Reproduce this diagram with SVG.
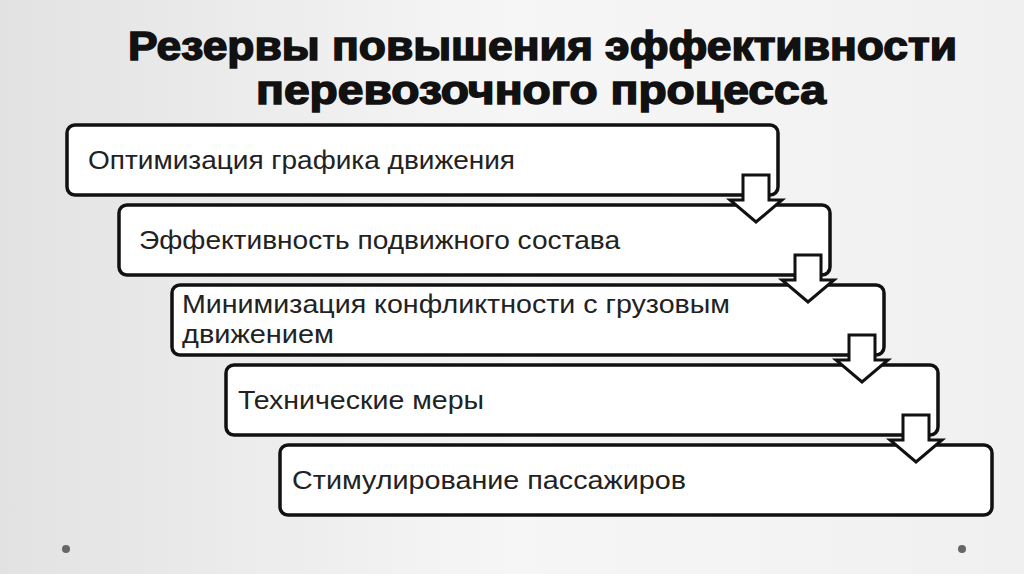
<svg xmlns="http://www.w3.org/2000/svg" width="1024" height="574" viewBox="0 0 1024 574">
<defs>
<linearGradient id="bg" x1="0" y1="0" x2="1" y2="0"><stop offset="0" stop-color="#e2e2e2"/><stop offset="0.5" stop-color="#f6f6f6"/><stop offset="1" stop-color="#f0f0f0"/></linearGradient>
<g id="arr"><path d="M-13,0 H13 V25 H26 L0,47 L-26,25 H-13 Z" fill="#fff" stroke="#111" stroke-width="3" stroke-linejoin="miter"/></g>
</defs>
<style>
.box{fill:#fff;stroke:#111;stroke-width:3.5}
.t{font-family:"Liberation Sans",Arial,sans-serif;font-size:25px;fill:#222}
.h{font-family:"Liberation Sans",Arial,sans-serif;font-size:40px;font-weight:bold;fill:#111;stroke:#111;stroke-width:1.5}
</style>
<rect width="1024" height="574" fill="url(#bg)"/>
<circle cx="66" cy="549" r="4" fill="#666"/>
<circle cx="962" cy="549" r="4" fill="#666"/>
<text class="h" x="128" y="60" textLength="829" lengthAdjust="spacingAndGlyphs">Резервы повышения эффективности</text>
<text class="h" x="256" y="104" textLength="570" lengthAdjust="spacingAndGlyphs">перевозочного процесса</text>
<g id="n1"><rect class="box" x="67" y="125" width="711" height="70" rx="8"/><text class="t" x="88" y="169" textLength="427" lengthAdjust="spacingAndGlyphs">Оптимизация графика движения</text></g>
<g id="n2"><rect class="box" x="119" y="205" width="711" height="70" rx="8"/><text class="t" x="139" y="249" textLength="481" lengthAdjust="spacingAndGlyphs">Эффективность подвижного состава</text></g>
<g id="n3"><rect class="box" x="172" y="285" width="712" height="70" rx="8"/><text class="t" x="182" y="313" textLength="548" lengthAdjust="spacingAndGlyphs">Минимизация конфликтности с грузовым</text><text class="t" x="182" y="343" textLength="152" lengthAdjust="spacingAndGlyphs">движением</text></g>
<g id="n4"><rect class="box" x="226" y="365" width="712" height="70" rx="8"/><text class="t" x="238" y="409" textLength="246" lengthAdjust="spacingAndGlyphs">Технические меры</text></g>
<g id="n5"><rect class="box" x="280" y="445" width="712" height="70" rx="8"/><text class="t" x="292" y="489" textLength="394" lengthAdjust="spacingAndGlyphs">Стимулирование пассажиров</text></g>
<g id="connectors">
<use href="#arr" x="756" y="175"/>
<use href="#arr" x="808" y="255"/>
<use href="#arr" x="862" y="335"/>
<use href="#arr" x="916" y="415"/>
</g>
</svg>
